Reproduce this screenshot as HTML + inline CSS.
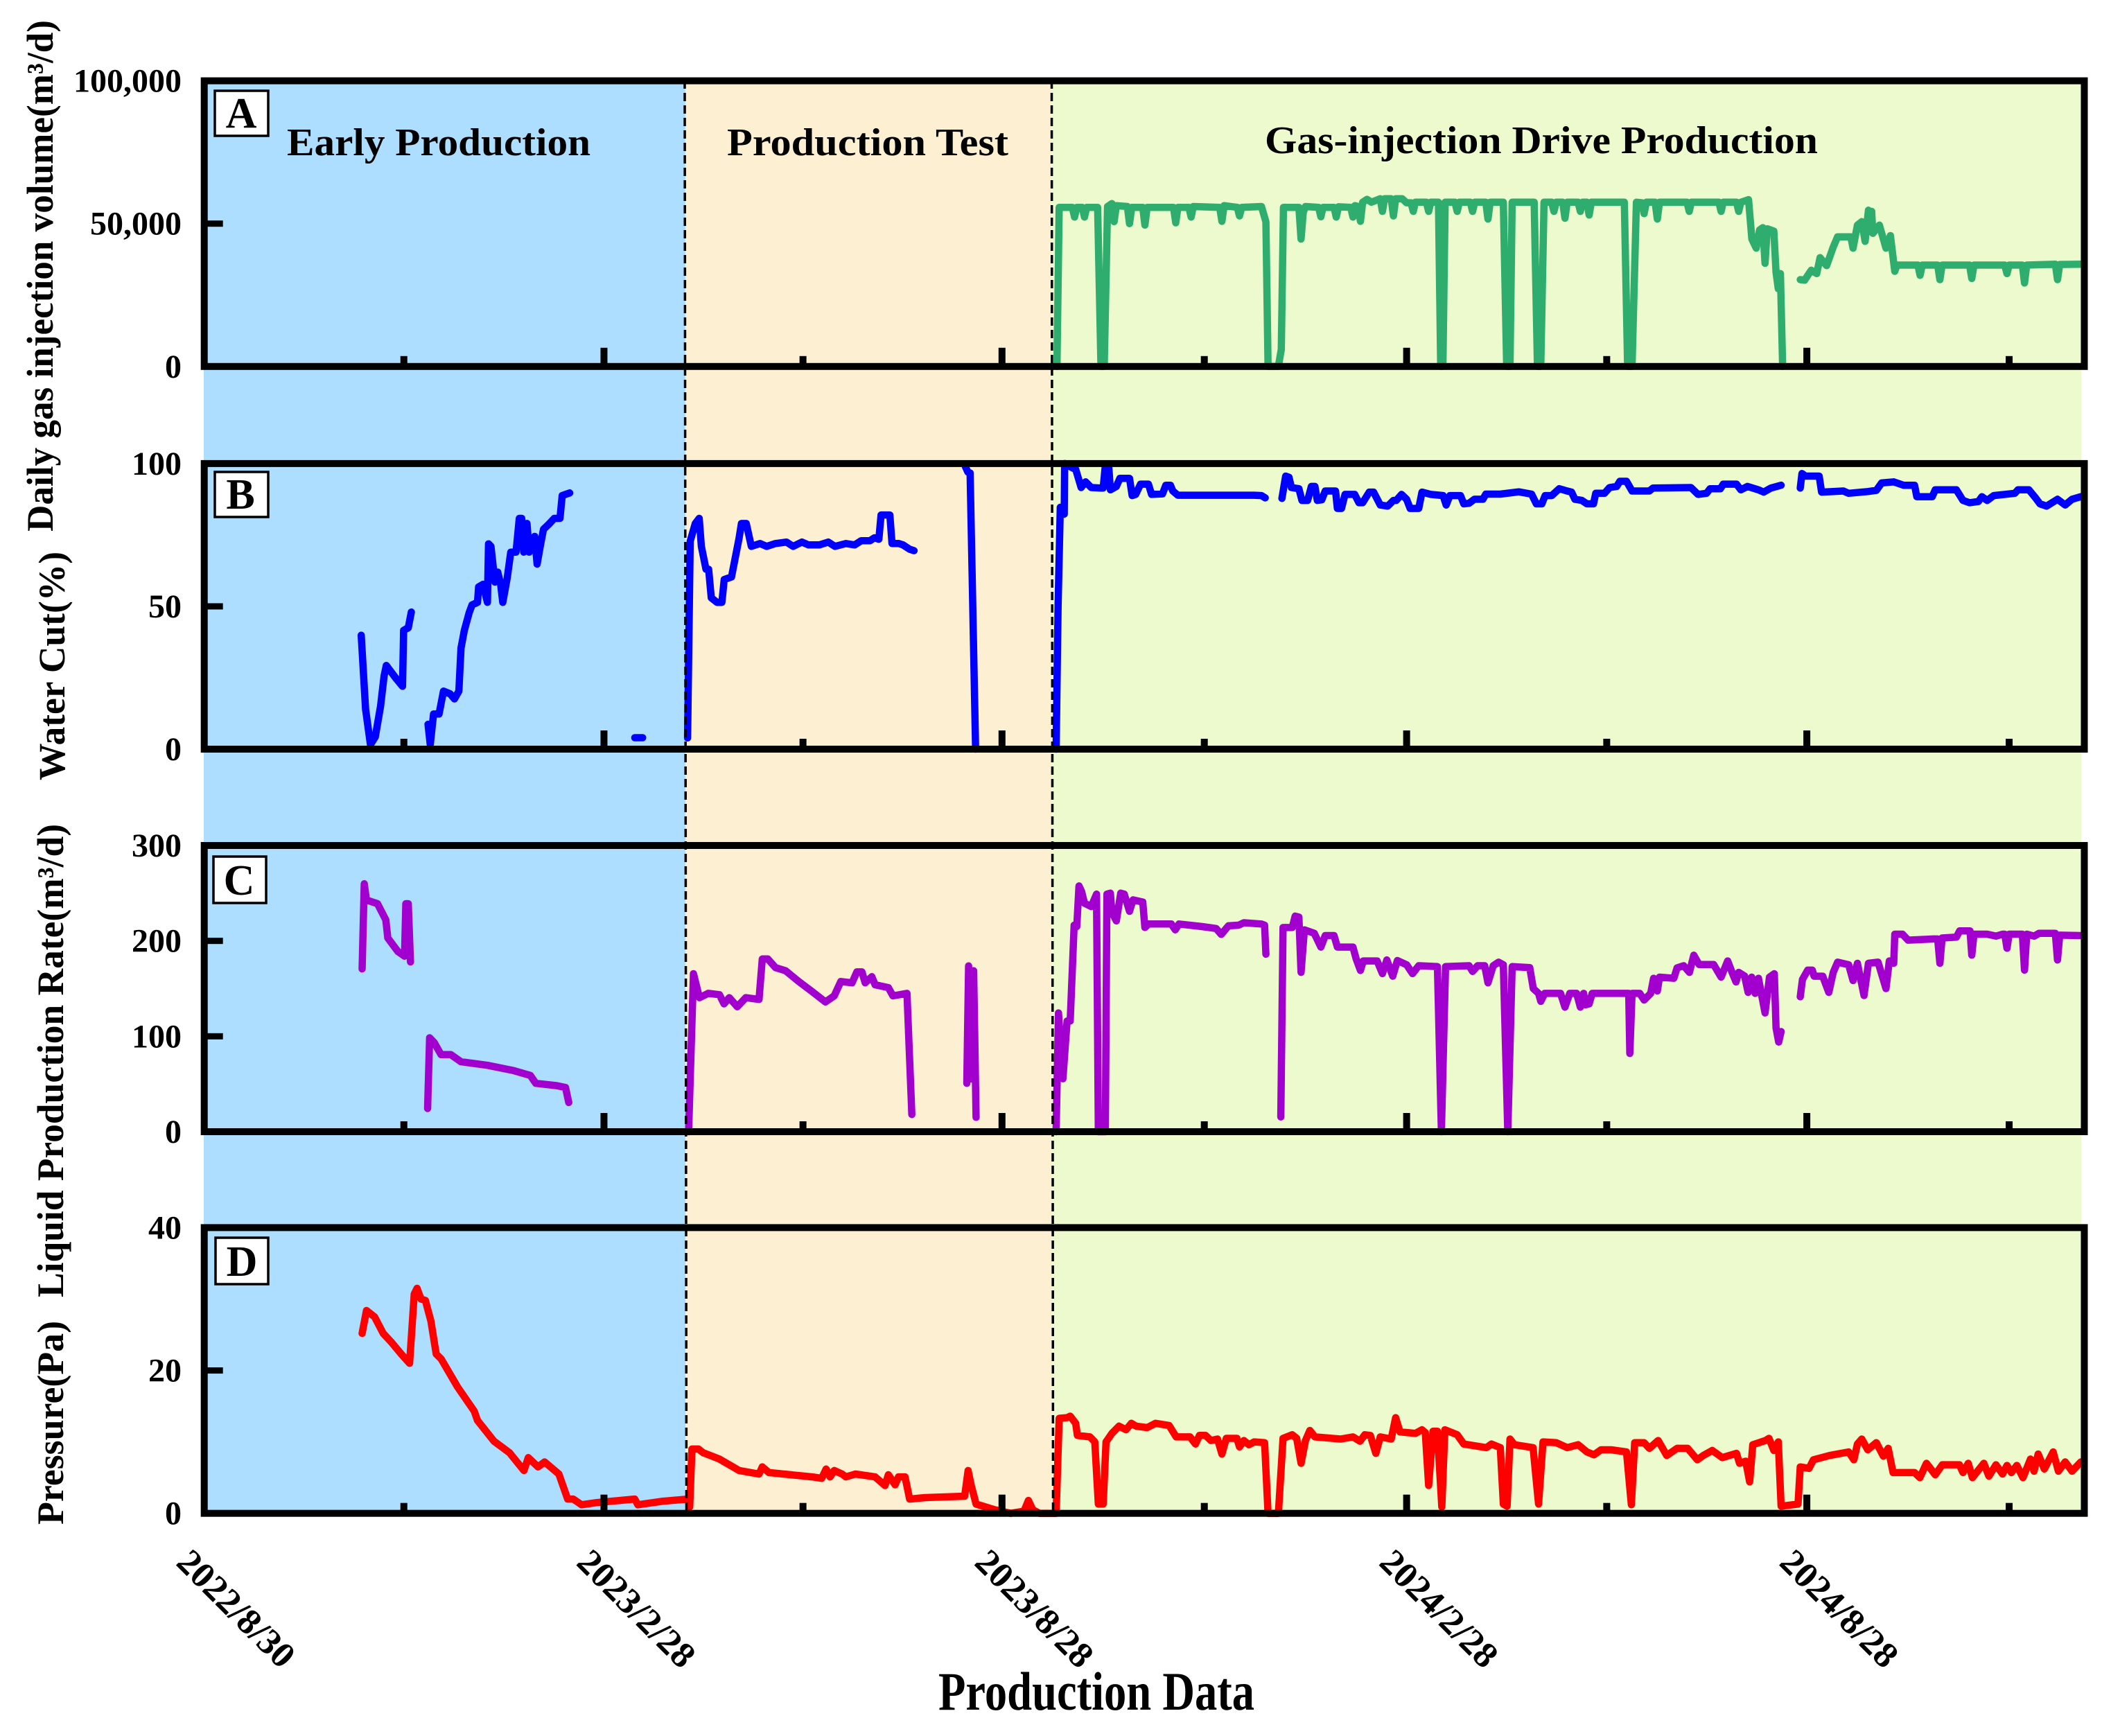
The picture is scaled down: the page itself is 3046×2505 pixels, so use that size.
<!DOCTYPE html>
<html lang="en">
<head>
<meta charset="utf-8">
<title>Production history chart</title>
<style>
html,body{margin:0;padding:0;background:#fff;}
svg{display:block;}
text{font-family:"Liberation Serif",serif;font-weight:bold;fill:#000;}
</style>
</head>
<body>
<svg id="chart" xmlns="http://www.w3.org/2000/svg" width="3046" height="2505" viewBox="0 0 3046 2505">
  <rect x="0" y="0" width="3046" height="2505" fill="#ffffff"/>
  <rect x="294" y="116" width="696" height="2068" fill="#ADDEFF"/>
  <rect x="989" y="116" width="530" height="2068" fill="#FDF0D2"/>
  <rect x="1518" y="116" width="1485" height="2068" fill="#ECFACE"/>
  <g id="series-layer"></g>
  <line x1="988" y1="116" x2="990.5" y2="2184" stroke="#000" stroke-width="3.5" stroke-dasharray="12 6"/>
  <line x1="1517.5" y1="116" x2="1519.5" y2="2184" stroke="#000" stroke-width="3.5" stroke-dasharray="12 6"/>
  <g id="axis-layer"></g>

  <text x="414" y="224" font-size="56" textLength="438" lengthAdjust="spacingAndGlyphs">Early Production</text>
  <text x="1049" y="224" font-size="56" textLength="406" lengthAdjust="spacingAndGlyphs">Production Test</text>
  <text x="1825" y="221" font-size="56" textLength="798" lengthAdjust="spacingAndGlyphs">Gas-injection Drive Production</text>

  <g><rect x="310" y="131" width="77" height="65" fill="#fff" stroke="#000" stroke-width="3.5"/><text x="348" y="184" font-size="62" text-anchor="middle">A</text></g>
  <g><rect x="310" y="681" width="77" height="65" fill="#fff" stroke="#000" stroke-width="3.5"/><text x="347" y="734" font-size="62" text-anchor="middle">B</text></g>
  <g><rect x="308" y="1236" width="76" height="67" fill="#fff" stroke="#000" stroke-width="3.5"/><text x="345" y="1291" font-size="62" text-anchor="middle">C</text></g>
  <g><rect x="311" y="1786" width="76" height="67" fill="#fff" stroke="#000" stroke-width="3.5"/><text x="349" y="1841" font-size="62" text-anchor="middle">D</text></g>

  <text transform="translate(76,767) rotate(-90)" font-size="54" textLength="738" lengthAdjust="spacingAndGlyphs">Daily gas injection volume(m³/d)</text>
  <text transform="translate(93,1126) rotate(-90)" font-size="54" textLength="330" lengthAdjust="spacingAndGlyphs">Water Cut(%)</text>
  <text transform="translate(91,1872) rotate(-90)" font-size="54" textLength="683" lengthAdjust="spacingAndGlyphs">Liquid Production Rate(m³/d)</text>
  <text transform="translate(91,2200) rotate(-90)" font-size="54" textLength="294" lengthAdjust="spacingAndGlyphs">Pressure(Pa)</text>
  <text x="1354" y="2467" font-size="78" textLength="456" lengthAdjust="spacingAndGlyphs">Production Data</text>
</svg>
<script>
const xMajorDays = [0,182,363,547,729];
const xMinorDays = [91,272.5,455,638,821];
const xTickLabels = ["2022/8/30","2023/2/28","2023/8/28","2024/2/28","2024/8/28"];

const gasTicks = [0,50,100];
const gasTickLabels = ["0","50,000","100,000"];
const waterTicks = [0,50,100];
const waterTickLabels = ["0","50","100"];
const liquidTicks = [0,100,200,300];
const liquidTickLabels = ["0","100","200","300"];
const pressureTicks = [0,20,40];
const pressureTickLabels = ["0","20","40"];

const gasDays = [
388,389,395,396,397,399.5,400.5,401.5,406.5,408,
409.5,411,413,414,415,420,421,422,427,428,
429,441,442,443,448,449,450,462,463,464,
470,471,472,481,483,484,488.7,490,491,498,
499,500,501,507,508,509,514,515,516,521.6,
522.6,523.5,525,526,527,529,531,535,536,537,
540,541,542,545,547,549,550,551,556,557,
558,561.5,562.5,563.5,564.5,569,570,571,576,577,
578,583,584,585,591,592.5,594,595,605,606.5,
608,609.5,613,614,615,618,619,620,625,626,
627,629,630,631,646,647.5,649.5,651.5,654,655,
656,660,661,662,674.5,675.5,676.5,689,690,691,
697,698,699,702.5,704,706,707.5,709,710,711,
714,715,716,717,718,null,726,728,731,733.5,
735,738,741,743,749,750,752,754,755.5,757,
758,758.5,759,762,765,767,769,770,779.5,780.5,
781.5,788.5,789.5,790.5,803,804,805,819,820,821,
827,828,829,842,843,844,854];
const gasValues = [
0,55.7,55.7,52.3,55.7,55.7,52.3,55.7,55.7,0,
0,56,57,50.7,56.3,56,50,55.7,55.7,49.5,
55.7,55.7,50.3,55.7,55.7,52.3,56,55.7,50.8,56.3,
55.7,52.7,55.7,56,50.6,0,0,6,55.7,55.7,
44.6,54,56,55.7,52.4,55.7,55.7,52.3,55.9,55.7,
52.3,56.3,56,50.8,57.5,58.5,57.5,58.7,54.3,58.7,
58.7,52.7,58.7,58.7,57.3,57.3,54.3,57.5,57.5,54.3,
57.5,57.5,0,0,57.5,57.5,54.3,57.5,57.5,54.3,
57.5,57.5,51.6,57.5,57.5,0,0,57.5,57.5,0,
0,57.5,57.5,54.3,57.5,57.5,51.9,57.5,57.5,54.3,
57.5,57.5,53,57.5,57.5,0,0,57.5,57.3,53.5,
57.5,57.5,51.6,57.5,57.5,54.3,57.5,57.5,54.3,57.5,
57.5,54.3,57.5,58.4,44.6,41.4,47.8,48.6,36.1,48.2,
47.4,32.9,27.2,32.5,0,null,30.4,30.2,33.7,32.5,
38.1,35.3,41.8,45.4,45.4,41.4,49.5,50.7,43.8,54.7,
49.9,54.3,46.6,49.5,41.4,45.8,33.3,35.5,35.5,31.9,
35.5,35.5,30.4,35.5,35.5,30.8,35.5,35.5,32.5,35.5,
35.5,29.2,35.5,35.8,30.4,35.7,35.8];

const waterDays = [
71.6,73.6,75.8,78,80.4,82,83,87.5,90.4,90.9,
93,94.4,null,102,103,104.5,107,109,112,114,
116,117,118.5,120.7,122,124.5,125,127,129,129.5,
130.6,132.4,133.7,135,136,138,139.6,142,143.5,144.6,
145.5,147,148,150.5,151.6,153,154.5,156.7,159.4,162,
163,166.4,null,196,199.6,null,220,221.2,223.5,225.3,
226.3,228.4,229.6,230.8,233.4,235.6,236.7,240,243.4,244.5,
246.7,249,253,256,260,265,268,272,275,280,
284,287,292,296,299,303,305,307,308,312,
313,316,318,321,323,null,346.3,347.5,348.5,351,
null,387.6,388.5,389.5,391.3,391.5,395,396.5,399,401,
403.6,408,409,410,411.5,412.3,415,416.6,421,422.2,
423.8,426,429.6,431,436,437.5,439.6,440.7,443,477.7,
481,482.7,null,490.3,492,493.5,494.6,498,499.4,502,
503.7,505.3,506.4,508.4,510,514.7,515.5,517.4,519,523.4,
525.3,527,530,532,535,538.4,541,542.3,544.7,547,
548.6,552.5,554,558,563.6,565,566.7,571.5,573,575.4,
577.8,581.7,583,589.6,598,603.8,606,608.5,610,613,
616.4,620,622,623.5,626.7,629,632,633,637,639.3,
642.5,644,647,649.5,657.4,659,676.3,679.5,683.4,685,
689.7,691,697,699,702,707,709.4,712.6,717.3,null,
726,726.8,728.4,734.6,735.7,745.6,748,756.7,760.6,763,
768.5,773,778,779,786,787.4,797,800,803,807,
808.6,811,814,823.6,825,830,833,835,838,843,
846.5,849.6,853.6];
const waterValues = [
39.9,14,1.6,4.3,15,25.6,29.3,24.7,22,41.6,
42.5,48,null,8.7,1.6,12.3,12.3,20.3,19.4,17.6,
20.3,35.4,41.6,47.8,50.5,51.4,56.8,57.7,51.4,71.9,
71,58.5,62,57.7,51.4,60,69,69,80.8,80.8,
69,79,69,74.5,64.8,71,77,78.6,80.8,80.8,
88.8,89.7,null,4,4,null,3.9,72.8,79,80.8,
71,63,63,53,51.4,51.4,59.4,60.3,73.7,79,
79,71,72,71,72,72.5,71,72.5,71.5,71.5,
72.5,71,72,71.5,73,73,74,73.5,82,82,
72,72,71.5,70,69.5,null,99,97,96.7,0,
null,0,50,84.7,82.3,100,98.5,98,91.6,93.6,
91.6,91.4,91.4,99.3,99.3,90.8,92,94.8,94.8,88.8,
89.2,92.8,92.8,89.2,89.4,92.4,92.4,90.4,88.9,88.9,
88.8,88,null,87.8,95.6,95.2,91.6,91.2,87.1,87.1,
92,92,87.1,87.3,90.4,90.4,84.3,84.3,89.2,89.2,
86.3,86.3,90,90,85.5,85.1,87.1,87.1,89.2,87.5,
84.3,84.3,90,89.2,88.8,85.5,88.8,88.8,85.9,86.1,
87.5,87.5,89.3,89.3,90.1,89.3,85.9,85.9,88.8,88.8,
91.2,90.4,90,87.5,87.1,85.9,85.9,89.6,89.6,91.6,
92,93.8,93.8,90.4,90.4,91.4,91.6,89.2,89.6,91.2,
91.2,92.8,92.8,90.8,92,90.8,90,91.4,92.4,null,
91.4,96.5,95.6,95.6,90,90.4,89.6,90.2,90.6,93.2,
93.6,92.4,92.4,88.4,88.4,90.8,90.8,87.1,86.3,86.7,
88.4,87.1,88.8,89.6,90.8,90.8,88,85.9,85.1,87.5,
85.5,87.5,88.4];

const liquidDays = [
72,73,74,79,82.8,83.7,88.3,91.3,91.9,93,
94,null,101.8,102.7,104.8,107.9,112.4,117,129,141,
148.5,151,160.6,164.5,166,null,220.5,222.7,225.4,229.4,
234.5,236.6,239,242.6,246.5,252.5,254,256.5,260,264.6,
270.6,276.7,282.7,286.7,289.7,294.8,297,299.3,300.8,303.8,
305.3,311.3,313.4,319.8,322,null,347,347.8,349.5,350.1,
351.2,null,387.6,388.7,390.7,392.6,394,395.8,397,398,
399.2,400.5,403.6,406,406.8,410,410.7,412.3,413,415,
417,418.6,421,422.6,427,428,429.6,440,441.8,443.5,
454,460.4,462.7,466,470.6,473,481,482.4,483,null,
489.8,490.8,495,496.3,498,499,500.5,505,508,510,
514,515.5,522.6,524,526,527.3,533.6,536,538,540.7,
542.8,547,549.7,552.5,561,562.8,564.7,575.4,577,579.3,
582.5,584,586.4,588.8,591,593,595,603,604.6,607,
608,609.8,617,619,621.2,624.3,626,627.5,628.3,630,
631.4,648,648.5,649.5,653,655,658,659.3,661,662,
668.5,670,673,675.6,677.6,680,686.6,690,693,695,
696.8,698,700.7,702.3,703.9,705.5,707,710,712,714.2,
715,716.2,717.3,null,726,727,729.4,731.5,732.3,736.2,
739,741,743,748,750,752,755,757,761.4,765,
766.5,768.5,769,772.5,775,786.6,788.5,789.5,790.5,797,798.5,
803.2,804,805,808,811,815,818,819,820,821,826,
827,828,829,832.4,834.6,841,842,843,844,853.6];
const liquidValues = [
170.6,259.8,242.8,239,222,203,188.8,184,239,239,
178,null,24.3,98.4,93.4,80.8,80.8,73.3,69.6,64,
59,50.7,48.2,46.3,30.6,null,0,165.6,140.5,145,
143.6,134,140.5,131,140.5,138.6,181,181,172,168.7,
157.4,146.8,136,142.4,157.4,156,167.5,167.5,156,162.5,
154,151,142.4,145,18,null,50.7,173.8,55,168.7,
15,null,0,124.5,55.5,116,116,216.5,215,257.6,
251.6,239.5,236,249,0,0,249,250,230,221,
250,249,231,243,240.7,214,217.7,217.7,211.6,217.7,
215,213,206.8,215.8,216.5,219,217.7,216.5,186,null,
15.5,214,214,226,225,167,211.6,208,193.5,205.6,
205.6,193.5,193.5,181.4,169,179,179,165.7,180,163,
179.4,175,165.7,174,173,0,173,174,168,174,
174,156,174,177.7,175,0,173,172,150,145,
136.6,145,145,130.5,145,145,130.5,145,133,134,
145,145,82,145,145,138,145,160.8,147.5,162,
160.8,171.7,174,167,185,175.3,175.3,162,179,167,
157,167,163.2,146,162,145,160.8,124.5,162,165.6,
108.7,94,105,null,141.4,159.6,169.3,169.3,163,163,
146,167,177.7,175,158.4,176.5,142.7,176.5,177.7,150,
179,176.5,207,207,200.8,202,202,176.5,203,204,210.4,
210.4,185,207,207,207,205,207,207,192.3,207,207,
207,169.3,207,205,208,208,208,180,206,205.6];

const pressureDays = [
72,74,77.7,81.6,85.2,89.8,93.6,95.7,97,98.8,
100.8,103.3,105.7,108,115.4,123,124.5,132,139,145.6,
147.6,152,155,161.5,165.5,168,171.8,178.7,196,197.4,
208.8,220.3,221,222,225,227,234.5,243.5,252.5,254,
257,276.7,281,283,284.8,286.7,290.3,292,296.3,305.3,
309.8,311.3,314.4,315.9,318.9,321,328,346,347.6,349,
351.2,359.7,367,373,375,377,380,387.6,389,392.6,
394,396.5,397.3,403,405.2,406.8,409,410.3,413,416.2,
419.4,421.8,424,429,432.8,439,442.2,448.5,451,452.8,
455.6,458,461,463,465,469.8,471,473,475.3,477.7,
482.4,484,488.7,490.8,495,497,499,501,503,505.3,
517,522.6,525.8,528,530.5,533,535,540,542,544,
551,554,555.5,557,559,561,563,564.4,570,573,
583.3,585.6,589.6,591,592.7,594,596,604.5,607,609,
615,620,625,629,632.2,635.4,640,647,649.2,650.7,
655,657.4,661.4,665.3,670,674.8,679.2,681.9,686,690.5,
697,698.4,701.2,703,704.4,710.2,711.8,714,716,717.3,
725,726,730,732,739.4,748,750.4,752,754,756.7,
760.6,763.8,766,768.2,778,780.4,783.4,787.4,790.6,798.4,
800,802.4,804.3,809.5,811.8,815,818,820,822,824.5,
827.3,830.7,832.3,834.2,837,841,843.4,846.5,849.6,853.6];
const pressureValues = [
25.2,28.4,27.5,25.2,24,22.3,21,30.7,31.5,30,
29.8,26.9,22.3,21.6,17.7,14.3,13,10.1,8.5,6,
7.8,6.5,7.2,5.5,2,2,1.2,1.5,2,1.2,
1.7,2,0.9,9,9,8.5,7.6,6,5.5,6.5,
5.7,5.1,4.9,6.2,5.1,6,5.5,5.1,5.5,5.1,
3.9,5.4,4,5.1,5.1,2,2.2,2.4,6,3.9,
1.3,0.5,0,0.3,1.8,0.5,0,0,13.3,13.4,
13.6,12.6,10.9,10.7,10,1.3,1.3,10,11.2,12.2,
11.7,12.6,12.2,12,12.6,12.3,10.7,10.7,9.7,10.9,
10.9,10.2,10.4,8.3,10.5,10.5,9.3,10.2,9.6,10,
9.9,0,0,10.5,11,10.5,7,10.2,11.6,10.7,
10.4,10.7,10.1,11,10.9,8.4,10.7,10.4,13.4,11.4,
11.2,11.7,11.3,3.9,11.5,11.5,0.9,11.7,11,9.7,
9.2,9.7,9.2,1.3,1,10.4,9.6,9.2,1.3,10,
9.9,9.2,9.6,8.6,8.2,8.9,8.9,8.6,1.2,9.9,
9.9,9.1,10.2,8.1,9.1,9.1,7.5,8.1,8.8,7.8,
8.4,7,7.3,4.4,9.6,10.2,10.5,8.8,10,1,
1.3,6.5,6.3,7.5,8.1,8.6,7.5,9.7,10.4,8.9,
9.9,8,9.1,5.7,5.7,5,7,5.4,6.8,6.8,
5.7,7,5,7,5.2,6.8,5.5,6.7,5.7,6.7,
5,7.6,5.9,8.3,6.2,8.6,5.9,7.2,5.9,7.2];

const NS = 'http://www.w3.org/2000/svg';
const seriesLayer = document.getElementById('series-layer');
const axisLayer = document.getElementById('axis-layer');
const frameLeft = 294.7, frameRight = 3007.5, pxPerDay = 3.173;

function xScale(day) { return 294 + day * pxPerDay; }
function yScale(panel, value) {
  return panel.bottom - (value - 0) / panel.max * (panel.bottom - panel.top);
}
function shape(tag, attrs, parent) {
  const el = document.createElementNS(NS, tag);
  for (const k in attrs) el.setAttribute(k, attrs[k]);
  parent.appendChild(el);
  return el;
}
function drawSeries(panel, days, values, color) {
  let d = '', pen = false;
  for (let i = 0; i < values.length; i++) {
    if (values[i] === null || days[i] === null) { pen = false; continue; }
    const px = xScale(days[i]), py = yScale(panel, values[i]);
    d += (pen ? 'L' : 'M') + px.toFixed(1) + ' ' + py.toFixed(1);
    pen = true;
  }
  return shape('path', {d: d, fill: 'none', stroke: color, 'stroke-width': 10.5, 'stroke-linejoin': 'round', 'stroke-linecap': 'round', 'clip-path': 'url(#plot-clip)'}, seriesLayer);
}
function drawAxes(panel, ticks, labels) {
  const frame = shape('rect', {x: frameLeft, y: panel.top, width: frameRight - frameLeft, height: panel.bottom - panel.top, fill: 'none', stroke: '#000', 'stroke-width': 10}, axisLayer);
  
  
  ticks.forEach(function (v, i) {
    const py = yScale(panel, v);
    if (v !== 0 && v !== panel.max) {
      const tick = shape('rect', {x: frameLeft, y: py - 4.5, width: 27, height: 9, fill: '#000'}, axisLayer);
      
      
    }
    const label = shape('text', {x: 262, y: py + 16, 'font-size': 48, 'text-anchor': 'end'}, axisLayer);
    label.textContent = labels[i];
    
    
  });
  xMajorDays.slice(1).forEach(function (day) {
    const tick = shape('rect', {x: xScale(day) - 5, y: panel.bottom - 27, width: 10, height: 27, fill: '#000'}, axisLayer);
    
    
  });
  xMinorDays.forEach(function (day) {
    const tick = shape('rect', {x: xScale(day) - 5, y: panel.bottom - 15, width: 10, height: 15, fill: '#000'}, axisLayer);
    
    
  });
}

const defs = shape('defs', {}, seriesLayer);
const clip = shape('clipPath', {id: 'plot-clip'}, defs);
shape('rect', {x: 294, y: 100, width: 2709, height: 2100}, clip);

const panelA = {top: 116.6, bottom: 528.8, max: 100};
const panelB = {top: 668.9, bottom: 1081, max: 100};
const panelC = {top: 1220, bottom: 1633, max: 300};
const panelD = {top: 1771.4, bottom: 2183.7, max: 40};

const gasLine = drawSeries(panelA, gasDays, gasValues, '#2EAD6E');


const waterLine = drawSeries(panelB, waterDays, waterValues, '#0000FF');


const liquidLine = drawSeries(panelC, liquidDays, liquidValues, '#A100CE');


const pressureLine = drawSeries(panelD, pressureDays, pressureValues, '#FF0000');



drawAxes(panelA, gasTicks, gasTickLabels);
drawAxes(panelB, waterTicks, waterTickLabels);
drawAxes(panelC, liquidTicks, liquidTickLabels);
drawAxes(panelD, pressureTicks, pressureTickLabels);

xMajorDays.forEach(function (day, i) {
  const cx = xScale(day) + 46, cy = 2322;
  const label = shape('text', {transform: 'translate(' + cx + ',' + cy + ') rotate(45)', y: 16, 'font-size': 52, 'text-anchor': 'middle', textLength: 216, lengthAdjust: 'spacingAndGlyphs'}, axisLayer);
  label.textContent = xTickLabels[i];
  
  
});
</script>
</body>
</html>
